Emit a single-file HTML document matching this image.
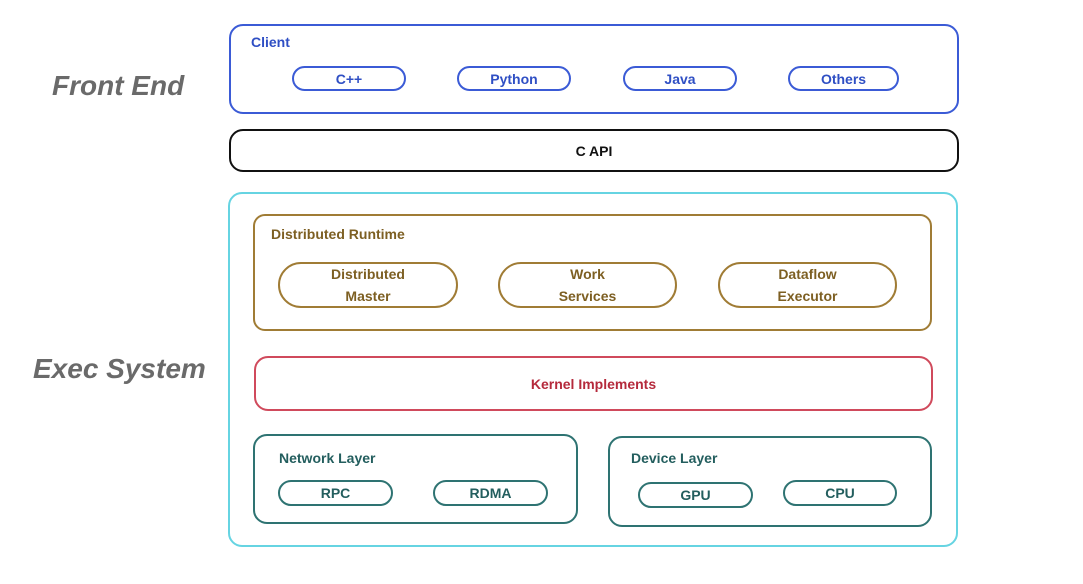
<!DOCTYPE html>
<html><head><meta charset="utf-8"><style>
body{margin:0;width:1083px;height:584px;background:#fff;position:relative;overflow:hidden;font-family:"Liberation Sans",sans-serif;}
.b{position:absolute;box-sizing:border-box;border:2px solid;}
.t{position:absolute;font-size:14px;font-weight:bold;}
.p{position:absolute;box-sizing:border-box;border:2px solid;display:flex;align-items:center;justify-content:center;text-align:center;font-size:14px;font-weight:bold;line-height:22px;}
.lab{position:absolute;font-size:28px;font-style:italic;color:#6a6a6a;font-weight:bold;}
</style></head><body>
<div class="lab" style="left:52px;top:70px;">Front End</div>
<div class="lab" style="left:33px;top:353px;">Exec System</div>

<div class="b" style="left:229px;top:24px;width:730px;height:90px;border-color:#3b5bd6;border-radius:14px;"></div>
<div class="t" style="left:251px;top:34px;color:#2f4fc4;">Client</div>
<div class="p" style="left:292px;top:66px;width:114px;height:25px;border-radius:13px;border-color:#3b5bd6;color:#2f4fc4;">C++</div>
<div class="p" style="left:457px;top:66px;width:114px;height:25px;border-radius:13px;border-color:#3b5bd6;color:#2f4fc4;">Python</div>
<div class="p" style="left:623px;top:66px;width:114px;height:25px;border-radius:13px;border-color:#3b5bd6;color:#2f4fc4;">Java</div>
<div class="p" style="left:788px;top:66px;width:111px;height:25px;border-radius:13px;border-color:#3b5bd6;color:#2f4fc4;">Others</div>

<div class="p" style="left:229px;top:129px;width:730px;height:43px;border-radius:14px;border-color:#111;color:#111;">C API</div>

<div class="b" style="left:228px;top:192px;width:730px;height:355px;border-color:#66d4e2;border-radius:14px;"></div>

<div class="b" style="left:253px;top:214px;width:679px;height:117px;border-color:#a07c35;border-radius:12px;"></div>
<div class="t" style="left:271px;top:226px;color:#7d5f22;">Distributed Runtime</div>
<div class="p" style="left:278px;top:262px;width:180px;height:46px;border-radius:23px;border-color:#a07c35;color:#7d5f22;">Distributed<br>Master</div>
<div class="p" style="left:498px;top:262px;width:179px;height:46px;border-radius:23px;border-color:#a07c35;color:#7d5f22;">Work<br>Services</div>
<div class="p" style="left:718px;top:262px;width:179px;height:46px;border-radius:23px;border-color:#a07c35;color:#7d5f22;">Dataflow<br>Executor</div>

<div class="p" style="left:254px;top:356px;width:679px;height:55px;border-radius:14px;border-color:#d04a5c;color:#b52a3c;">Kernel Implements</div>

<div class="b" style="left:253px;top:434px;width:325px;height:90px;border-color:#2e7372;border-radius:14px;"></div>
<div class="t" style="left:279px;top:450px;color:#235e5e;">Network Layer</div>
<div class="p" style="left:278px;top:480px;width:115px;height:26px;border-radius:13px;border-color:#2e7372;color:#235e5e;">RPC</div>
<div class="p" style="left:433px;top:480px;width:115px;height:26px;border-radius:13px;border-color:#2e7372;color:#235e5e;">RDMA</div>

<div class="b" style="left:608px;top:436px;width:324px;height:91px;border-color:#2e7372;border-radius:14px;"></div>
<div class="t" style="left:631px;top:450px;color:#235e5e;">Device Layer</div>
<div class="p" style="left:638px;top:482px;width:115px;height:26px;border-radius:13px;border-color:#2e7372;color:#235e5e;">GPU</div>
<div class="p" style="left:783px;top:480px;width:114px;height:26px;border-radius:13px;border-color:#2e7372;color:#235e5e;">CPU</div>
</body></html>
